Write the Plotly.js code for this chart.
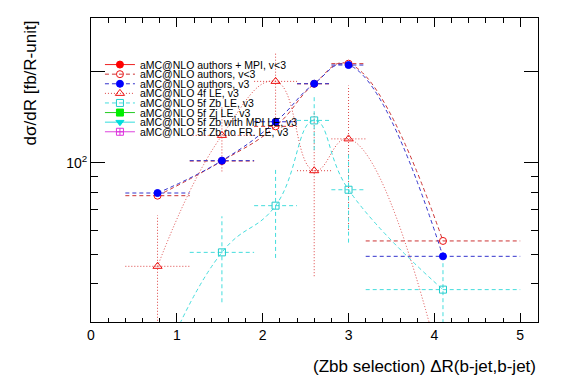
<!DOCTYPE html>
<html><head><meta charset="utf-8">
<script src="https://cdn.plot.ly/plotly-3.0.1.min.js"></script>
<style>html,body{margin:0;padding:0;background:#fff;}</style>
</head><body>
<div id="chart" style="width:567px;height:384px;"></div>
<script>
// ---- data ----
const binCenters  = [0.775, 1.525, 2.15, 2.6, 3.0, 4.1];
const binHalfLow  = [0.375, 0.375, 0.25, 0.2, 0.2, 0.9];
const binHalfHigh = [0.375, 0.375, 0.25, 0.2, 0.2, 0.9];

const authorsMpiLt3 = [null];
const authorsLt3    = [78.0, 101.5, 132.1, 182.5, 212.7, 55.3];
const authorsV3     = [79.6, 101.8, 136.8, 182.7, 210.5, 49.2];
const fourFLE       = [45.6, 123.3, 185.9, 94.3, 120.1, 20.0];
const fourFLEErr    = [21.6, 29.5, 44.8, 52.0, 60.0, 7.0];
const zbLE          = [20.0, 50.7, 72.3, 138.2, 81.6, 38.2];
const zbLEErr       = [6.0, 16.0, 23.7, 28.0, 27.0, 8.6];
const zjLE          = [null];
const zbMpiLE       = [null];
const zbNoFrLE      = [null];

const seriesNames = [
  "aMC@NLO authors + MPI, v&lt;3",
  "aMC@NLO authors, v&lt;3",
  "aMC@NLO authors, v3",
  "aMC@NLO 4f LE, v3",
  "aMC@NLO 5f Zb LE, v3",
  "aMC@NLO 5f Zj LE, v3",
  "aMC@NLO 5f Zb with MPI LE, v3",
  "aMC@NLO 5f Zb no FR. LE, v3"
];
const yLabelVals = [100];
const yLabelText = ["10<sup>2</sup>"];
const yLongTickVals = [200];
const yMinorVals = [30, 40, 50, 60, 70, 80, 90];

// ---- helpers ----
const DASH = "4px,3px";
const DOT = "1px,2px";
function errTraces(x, y, yErr, color, dash) {
  const hx = [], hy = [], vx = [], vy = [];
  for (let i = 0; i < x.length; i++) {
    hx.push(x[i] - binHalfLow[i], x[i] + binHalfHigh[i], null);
    hy.push(y[i], y[i], null);
    if (yErr) {
      vx.push(x[i], x[i], null);
      vy.push(Math.max(y[i] - yErr[i], 1e-3), y[i] + yErr[i], null);
    }
  }
  const out = [{x: hx, y: hy, mode: "lines", showlegend: false, hoverinfo: "skip",
                line: {color: color, width: 1, dash: dash}}];
  if (yErr) out.push({x: vx, y: vy, mode: "lines", showlegend: false, hoverinfo: "skip",
                      line: {color: color, width: 1, dash: dash}});
  return out;
}
function curve(name, y, color, dash, symbol, mcolor, size) {
  return {x: binCenters.slice(0, y.length), y: y, name: name,
          mode: "lines+markers",
          line: {color: color, width: 1, dash: dash, shape: "spline", smoothing: 1.3},
          marker: {symbol: symbol, color: mcolor, size: size, line: {color: mcolor, width: 1}}};
}

const traces = [];
traces.push(...errTraces(binCenters, authorsLt3, null, "#cc3333", DASH));
traces.push(...errTraces(binCenters, authorsV3, null, "#3333cc", DASH));
traces.push(...errTraces(binCenters, fourFLE, fourFLEErr, "#dd4444", DOT));
traces.push(...errTraces(binCenters, zbLE, zbLEErr, "#44dddd", DASH));

traces.push(curve(seriesNames[0], authorsMpiLt3, "#ee2222", "solid", "circle", "#ff0000", 7));
traces.push(curve(seriesNames[1], authorsLt3, "#cc3333", DASH, "circle-open", "#ee1111", 7));
traces.push(curve(seriesNames[2], authorsV3, "#3333cc", DASH, "circle", "#0000ff", 7));
traces.push(curve(seriesNames[3], fourFLE, "#dd4444", DOT, "triangle-up-open", "#ee1111", 8));
traces.push(curve(seriesNames[4], zbLE, "#44dddd", DASH, "square-open", "#22cccc", 7));
traces.push(curve(seriesNames[5], zjLE, "#22cc22", "solid", "square", "#00ee00", 7));
traces.push(curve(seriesNames[6], zbMpiLE, "#33dddd", "solid", "triangle-down", "#00dddd", 7));
traces.push(curve(seriesNames[7], zbNoFrLE, "#dd44dd", "solid", "square-cross-open", "#dd33dd", 7));

// invisible carrier for the long 200 tick on an overlaid log axis
traces.push({x: [null], y: [null], yaxis: "y2", mode: "lines", showlegend: false, hoverinfo: "skip"});

const FONT = "Liberation Sans, Arial, Helvetica, sans-serif";
const Y_RANGE = [1.4752, 2.4785];
const layout = {
  width: 567, height: 384,
  margin: {l: 91, r: 29, t: 18, b: 62, pad: 0},
  paper_bgcolor: "#fff", plot_bgcolor: "#fff",
  font: {family: FONT, color: "#000", size: 14},
  showlegend: true,
  legend: {x: 0.02, y: 0.883, xanchor: "left", yanchor: "top",
           bgcolor: "rgba(0,0,0,0)", borderwidth: 0,
           font: {family: FONT, size: 10.5, color: "#000"}},
  xaxis: {range: [0, 5.207], tickmode: "linear", tick0: 0, dtick: 1,
          ticks: "inside", ticklen: 9, tickwidth: 1, tickcolor: "#000",
          showline: true, linecolor: "#000", linewidth: 1, mirror: "ticks",
          showgrid: false, zeroline: false, tickfont: {size: 14},
          minor: {dtick: 0.2, ticks: "inside", ticklen: 4.5, tickcolor: "#000", tickwidth: 1}},
  yaxis: {type: "log", range: Y_RANGE, tickmode: "array",
          tickvals: yLabelVals, ticktext: yLabelText,
          ticks: "inside", ticklen: 14, tickwidth: 1, tickcolor: "#000",
          showline: true, linecolor: "#000", linewidth: 1, mirror: "ticks",
          showgrid: false, zeroline: false, tickfont: {size: 14},
          minor: {tickmode: "array", tickvals: yMinorVals, ticks: "inside", ticklen: 7, tickcolor: "#000", tickwidth: 1}},
  yaxis2: {type: "log", range: Y_RANGE, overlaying: "y", side: "left",
           tickmode: "array", tickvals: yLongTickVals, showticklabels: false,
           ticks: "inside", ticklen: 14, tickwidth: 1, tickcolor: "#000",
           showline: false, mirror: "ticks", showgrid: false, zeroline: false},
  annotations: [
    {text: "(Zbb selection) \u0394R(b-jet,b-jet)", xref: "paper", yref: "paper",
     x: 1, y: -0.148, xanchor: "right", yanchor: "middle", showarrow: false,
     font: {size: 17, family: FONT}},
    {text: "d\u03c3/dR [fb/R-unit]", xref: "paper", yref: "paper", textangle: -90,
     x: -0.1365, y: 0.788, xanchor: "center", yanchor: "middle", showarrow: false,
     font: {size: 17, family: FONT}}
  ]
};

Plotly.newPlot("chart", traces, layout, {staticPlot: true}).then(function(gd) {
  const items = gd.querySelectorAll(".legend .traces");
  items.forEach(function(g, i) {
    g.setAttribute("transform", "translate(0," + (11 + i * 9.6) + ")");
  });
});
</script>
</body></html>
